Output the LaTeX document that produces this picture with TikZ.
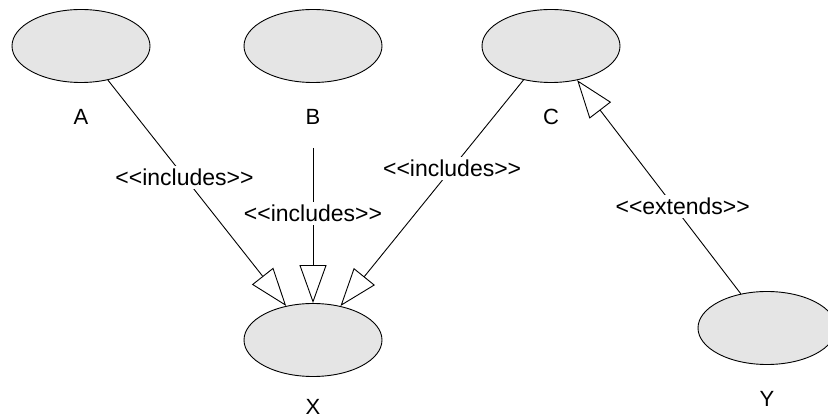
\documentclass[tikz,border=0pt]{standalone}
\usepackage{fontspec}
\setmainfont{Liberation Sans}
\usetikzlibrary{arrows.meta,positioning,shapes.geometric}
\newcommand{\stereo}[1]{<\kern0pt<#1>\kern0pt>}

\begin{document}
\begin{tikzpicture}[x=1pt,y=-1pt,line width=0.9pt]
		\useasboundingbox (0,0) rectangle (828,419);

		\begin{scope}[every node/.style={ellipse,draw,fill=black!10,minimum width=138pt,minimum height=73pt,inner sep=0pt}]
			\node (a) at (81,46) {};
			\node (b) at (313,46) {};
			\node (c) at (551,46) {};
			\node (x) at (313,340) {};
			\node (y) at (767,328) {};
		\end{scope}

		\begin{scope}[every node/.style={font=\fontsize{22}{26}\selectfont,inner sep=0pt}]
			\node (la) [below=26pt of a] {A};
			\node (lb) [below=26pt of b] {B};
			\node (lc) [below=26pt of c] {C};
			\node (lx) [below=22pt of x] {X};
			\node (ly) [below=26pt of y] {Y};
		\end{scope}

		\coordinate (bs) at (313,148);

		\begin{scope}[>={Triangle[open,fill=white,length=38pt,width=27pt]},
			every node/.style={fill=white,inner sep=3pt,font=\fontsize{23}{26}\selectfont}]
			\path (a) edge[->] node[pos=0.43] {\stereo{includes}} (x);
			\path (bs) edge[->] node[pos=0.42] {\stereo{includes}} (x);
			\path (c) edge[->] node[pos=0.39] {\stereo{includes}} (x);
			\path (y) edge[->] node[pos=0.41,xshift=9pt] {\stereo{extends}} (c);
		\end{scope}
	\end{tikzpicture}
\end{document}
